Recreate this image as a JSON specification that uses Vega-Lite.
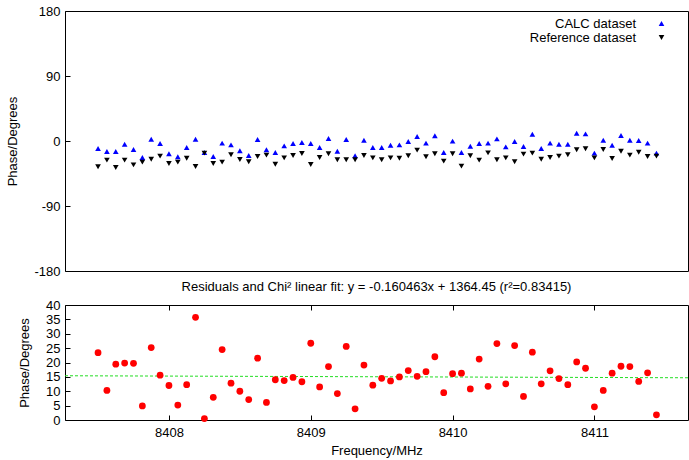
{
  "$schema": "https://vega.github.io/schema/vega-lite/v6.json",
  "padding": {"left": 6, "top": 4, "right": 0, "bottom": 2},
  "background": "white",
  "config": {
    "font": "Liberation Sans",
    "view": {"stroke": "black", "strokeWidth": 1},
    "axis": {
      "grid": false, "domain": false, "tickColor": "black", "tickSize": -5,
      "labelColor": "black", "labelFontSize": 13, "titleFontSize": 13,
      "titleFontWeight": "normal", "titleColor": "black", "labelPadding": 10,
      "labelOverlap": false
    },
    "title": {"fontSize": 13, "fontWeight": "normal", "color": "black", "offset": 5, "frame": "group"}
  },
  "spacing": 1,
  "datasets": {
    "d": [
      {"f": 8407.5, "calc": -10.4, "ref": -35.7, "resid": 23.4},
      {"f": 8407.5625, "calc": -14.5, "ref": -26.5, "resid": 10.3},
      {"f": 8407.625, "calc": -14.5, "ref": -36.6, "resid": 19.4},
      {"f": 8407.6875, "calc": -4.4, "ref": -26.5, "resid": 19.8},
      {"f": 8407.75, "calc": -11.8, "ref": -33.0, "resid": 19.7},
      {"f": 8407.8125, "calc": -22.8, "ref": -29.3, "resid": 4.9},
      {"f": 8407.875, "calc": 2.5, "ref": -25.2, "resid": 25.2},
      {"f": 8407.9375, "calc": -3.5, "ref": -21.0, "resid": 15.6},
      {"f": 8408.0, "calc": -17.7, "ref": -31.1, "resid": 12.0},
      {"f": 8408.0625, "calc": -21.9, "ref": -29.3, "resid": 5.2},
      {"f": 8408.125, "calc": -9.0, "ref": -23.8, "resid": 12.3},
      {"f": 8408.1875, "calc": 2.5, "ref": -35.3, "resid": 35.7},
      {"f": 8408.25, "calc": -16.0, "ref": -16.8, "resid": 0.5},
      {"f": 8408.3125, "calc": -21.4, "ref": -31.1, "resid": 7.9},
      {"f": 8408.375, "calc": -3.0, "ref": -29.3, "resid": 24.5},
      {"f": 8408.4375, "calc": -5.3, "ref": -19.1, "resid": 12.8},
      {"f": 8408.5, "calc": -13.6, "ref": -25.6, "resid": 10.0},
      {"f": 8408.5625, "calc": -20.1, "ref": -28.8, "resid": 7.1},
      {"f": 8408.625, "calc": 2.1, "ref": -21.4, "resid": 21.5},
      {"f": 8408.6875, "calc": -12.2, "ref": -19.6, "resid": 6.1},
      {"f": 8408.75, "calc": -16.0, "ref": -32.1, "resid": 14.0},
      {"f": 8408.8125, "calc": -6.7, "ref": -23.3, "resid": 13.7},
      {"f": 8408.875, "calc": -3.5, "ref": -20.1, "resid": 14.8},
      {"f": 8408.9375, "calc": -2.1, "ref": -17.3, "resid": 13.3},
      {"f": 8409.0, "calc": -3.5, "ref": -32.5, "resid": 26.7},
      {"f": 8409.0625, "calc": -9.0, "ref": -22.8, "resid": 11.5},
      {"f": 8409.125, "calc": 3.5, "ref": -17.7, "resid": 18.6},
      {"f": 8409.1875, "calc": -14.1, "ref": -26.0, "resid": 9.2},
      {"f": 8409.25, "calc": 2.1, "ref": -26.0, "resid": 25.6},
      {"f": 8409.3125, "calc": -20.5, "ref": -26.0, "resid": 3.9},
      {"f": 8409.375, "calc": 1.1, "ref": -20.1, "resid": 19.1},
      {"f": 8409.4375, "calc": -9.0, "ref": -23.3, "resid": 12.1},
      {"f": 8409.5, "calc": -9.0, "ref": -26.0, "resid": 14.5},
      {"f": 8409.5625, "calc": -5.8, "ref": -23.3, "resid": 13.6},
      {"f": 8409.625, "calc": -5.3, "ref": -23.8, "resid": 15.0},
      {"f": 8409.6875, "calc": -0.7, "ref": -20.5, "resid": 17.2},
      {"f": 8409.75, "calc": 6.2, "ref": -12.7, "resid": 15.2},
      {"f": 8409.8125, "calc": -3.0, "ref": -21.9, "resid": 16.8},
      {"f": 8409.875, "calc": 7.2, "ref": -17.7, "resid": 22.0},
      {"f": 8409.9375, "calc": -15.9, "ref": -27.9, "resid": 9.5},
      {"f": 8410.0, "calc": -0.2, "ref": -17.7, "resid": 16.1},
      {"f": 8410.0625, "calc": -15.9, "ref": -34.8, "resid": 16.3},
      {"f": 8410.125, "calc": -7.2, "ref": -20.5, "resid": 10.8},
      {"f": 8410.1875, "calc": -3.5, "ref": -26.5, "resid": 21.2},
      {"f": 8410.25, "calc": -3.0, "ref": -16.4, "resid": 11.7},
      {"f": 8410.3125, "calc": 3.0, "ref": -26.0, "resid": 26.6},
      {"f": 8410.375, "calc": -8.1, "ref": -23.3, "resid": 12.6},
      {"f": 8410.4375, "calc": -0.7, "ref": -28.8, "resid": 25.9},
      {"f": 8410.5, "calc": -7.6, "ref": -18.2, "resid": 8.2},
      {"f": 8410.5625, "calc": 9.4, "ref": -16.8, "resid": 23.6},
      {"f": 8410.625, "calc": -10.4, "ref": -25.2, "resid": 12.6},
      {"f": 8410.6875, "calc": -3.0, "ref": -22.8, "resid": 17.1},
      {"f": 8410.75, "calc": -4.4, "ref": -21.0, "resid": 14.4},
      {"f": 8410.8125, "calc": -4.4, "ref": -19.1, "resid": 12.3},
      {"f": 8410.875, "calc": 10.8, "ref": -12.2, "resid": 20.2},
      {"f": 8410.9375, "calc": 9.9, "ref": -10.8, "resid": 18.0},
      {"f": 8411.0, "calc": -16.8, "ref": -23.3, "resid": 4.6},
      {"f": 8411.0625, "calc": 1.1, "ref": -11.8, "resid": 10.3},
      {"f": 8411.125, "calc": -5.8, "ref": -24.2, "resid": 16.3},
      {"f": 8411.1875, "calc": 7.6, "ref": -14.1, "resid": 18.7},
      {"f": 8411.25, "calc": 1.1, "ref": -19.6, "resid": 18.6},
      {"f": 8411.3125, "calc": 0.7, "ref": -15.5, "resid": 13.4},
      {"f": 8411.375, "calc": -3.0, "ref": -21.4, "resid": 16.4},
      {"f": 8411.4375, "calc": -16.8, "ref": -21.0, "resid": 1.8}
    ],
    "fit": [
      {"f": 8407.267, "y": 15.39},
      {"f": 8411.66, "y": 14.69}
    ]
  },
  "vconcat": [
    {
      "width": 623,
      "height": 260,
      "data": {"name": "d"},
      "transform": [{"fold": ["calc", "ref"], "as": ["series", "phase"]}],
      "mark": {"type": "point", "filled": true, "size": 32, "opacity": 1},
      "encoding": {
        "x": {"field": "f", "type": "quantitative", "scale": {"domain": [8407.267, 8411.66], "nice": false, "zero": false}, "axis": null},
        "y": {"field": "phase", "type": "quantitative", "scale": {"domain": [-180, 180], "nice": false}, "axis": {"values": [-180, -90, 0, 90, 180], "title": "Phase/Degrees", "titlePadding": 14, "labelOverlap": false, "labelExpr": "datum.value < 0 ? '-' + abs(datum.value) : '' + datum.value"}},
        "color": {
          "field": "series", "type": "nominal",
          "scale": {"domain": ["calc", "ref"], "range": ["#0000ff", "#000000"]},
          "legend": {
            "title": null, "orient": "none", "legendX": 590, "legendY": 6,
            "labelExpr": "datum.value == 'calc' ? 'CALC dataset' : 'Reference dataset'",
            "labelFontSize": 13, "labelColor": "black", "labelAlign": "right", "labelOffset": -32,
            "symbolSize": 32, "rowPadding": -4, "padding": 0
          }
        },
        "shape": {
          "field": "series", "type": "nominal",
          "scale": {"domain": ["calc", "ref"], "range": ["triangle-up", "triangle-down"]}
        }
      }
    },
    {
      "width": 623,
      "height": 115,
      "title": {"text": "Residuals and Chi² linear fit: y = -0.160463x + 1364.45  (r²=0.83415)"},
      "layer": [
        {
          "data": {"name": "fit"},
          "mark": {"type": "line", "color": "#22dd22", "strokeDash": [3, 2], "strokeWidth": 1},
          "encoding": {
            "x": {"field": "f", "type": "quantitative", "scale": {"domain": [8407.267, 8411.66], "nice": false, "zero": false}, "axis": {"values": [8408, 8409, 8410, 8411], "format": "d", "title": "Frequency/MHz", "titlePadding": 5, "labelPadding": 11, "labelOverlap": false}},
            "y": {"field": "y", "type": "quantitative", "scale": {"domain": [0, 40], "nice": false}, "axis": {"values": [0, 5, 10, 15, 20, 25, 30, 35, 40], "title": "Phase/Degrees", "titlePadding": 14, "labelOverlap": false}}
          }
        },
        {
          "data": {"name": "d"},
          "mark": {"type": "circle", "color": "#ff0000", "size": 46, "opacity": 1},
          "encoding": {
            "x": {"field": "f", "type": "quantitative", "scale": {"domain": [8407.267, 8411.66], "nice": false, "zero": false}, "axis": {"orient": "top", "values": [8408, 8409, 8410, 8411], "labels": false, "title": null}},
            "y": {"field": "resid", "type": "quantitative", "scale": {"domain": [0, 40], "nice": false}, "axis": {"values": [0, 5, 10, 15, 20, 25, 30, 35, 40], "title": "Phase/Degrees", "titlePadding": 14, "labelOverlap": false}}
          }
        }
      ],
      "resolve": {"axis": {"x": "independent"}}
    }
  ]
}
